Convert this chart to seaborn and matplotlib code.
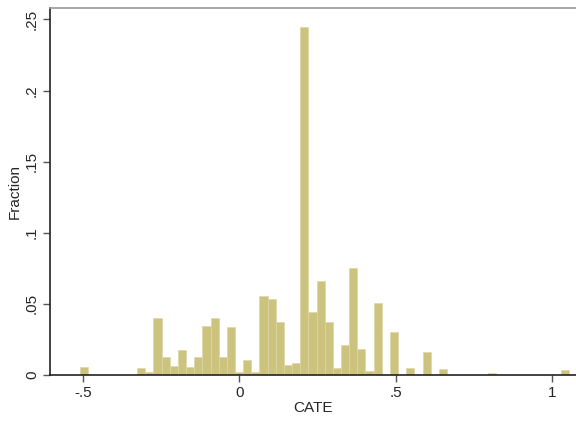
import numpy as np
import pandas as pd
import matplotlib
matplotlib.use("Agg")
import matplotlib.pyplot as plt
import seaborn as sns

# Histogram: 60 bins starting at -0.509, width 0.02608; fraction per bin
bin_start = -0.509
bin_width = 0.02608
fractions = [
    0.0054, 0.0, 0.0, 0.0, 0.0, 0.0, 0.0, 0.0047, 0.0020, 0.0400,   # 0-9
    0.0129, 0.0063, 0.0176, 0.0054, 0.0124, 0.0344, 0.0400, 0.0129, 0.0335, 0.0020,  # 10-19
    0.0105, 0.0020, 0.0555, 0.0532, 0.0370, 0.0070, 0.0082, 0.2446, 0.0440, 0.0660,  # 20-29
    0.0375, 0.0047, 0.0210, 0.0750, 0.0180, 0.0030, 0.0508, 0.0, 0.0305, 0.0,        # 30-39
    0.0052, 0.0, 0.0163, 0.0, 0.0040, 0.0, 0.0, 0.0, 0.0, 0.0,                        # 40-49
    0.0015, 0.0, 0.0, 0.0, 0.0, 0.0, 0.0, 0.0, 0.0, 0.0035,                           # 50-59
]
x_ticks = [-0.5, 0, 0.5, 1]
x_tick_labels = ["-.5", "0", ".5", "1"]
y_ticks = [0, 0.05, 0.1, 0.15, 0.2, 0.25]
y_tick_labels = ["0", ".05", ".1", ".15", ".2", ".25"]

n_bins = len(fractions)
bin_end = bin_start + bin_width * n_bins
centers = bin_start + bin_width * (np.arange(n_bins) + 0.5)
df = pd.DataFrame({"CATE": centers, "frac": fractions})

sns.set_style("white")
plt.rcParams["font.family"] = ["Liberation Sans", "DejaVu Sans"]

fig = plt.figure(figsize=(5.76, 4.21), dpi=100)
ax = fig.add_axes([50 / 576, 46 / 421, 526 / 576, 367 / 421])

sns.histplot(data=df, x="CATE", weights="frac", bins=n_bins,
             binrange=(bin_start, bin_end), stat="count",
             color="#cbc37e", edgecolor="#ddd7a6", linewidth=0.5, alpha=1.0, ax=ax)

ax.set_xlim(-0.605, 1.077)
ax.set_ylim(0, 0.258)
ax.set_xticks(x_ticks)
ax.set_xticklabels(x_tick_labels)
ax.set_yticks(y_ticks)
ax.set_yticklabels(y_tick_labels, rotation=90, va="center")
ax.tick_params(axis="both", direction="out", length=5, width=1, color="#555555",
               labelsize=11, pad=3, bottom=True, left=True)
ax.set_xlabel("CATE", fontsize=11, labelpad=1)
ax.set_ylabel("Fraction", fontsize=11, labelpad=2)

for s in ["left", "bottom"]:
    ax.spines[s].set_color("#222222")
    ax.spines[s].set_linewidth(1.2)
ax.spines["top"].set_color("#999999")
ax.spines["top"].set_linewidth(1.2)
ax.spines["right"].set_visible(False)
ax.grid(False)

fig.savefig("out.png", dpi=100)
